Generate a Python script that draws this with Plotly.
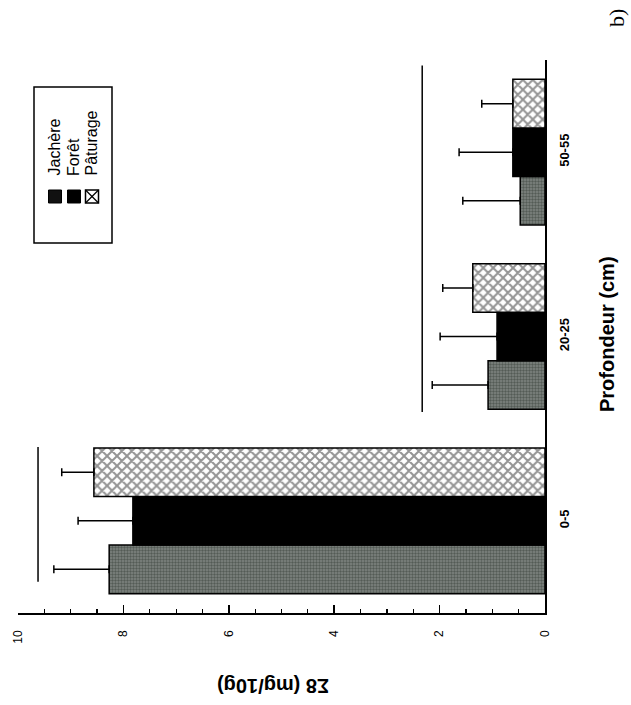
import plotly.graph_objects as go

# ---------------- data ----------------
categories = ["0-5", "20-25", "50-55"]
series_names = ["Jachère", "Forêt", "Pâturage"]
jachere = [8.27, 1.08, 0.47]
foret = [7.82, 0.91, 0.61]
paturage = [8.56, 1.37, 0.61]
jachere_err = [1.05, 1.06, 1.09]
foret_err = [1.04, 1.08, 1.02]
paturage_err = [0.61, 0.57, 0.59]
value_ticks = [0, 2, 4, 6, 8, 10]
# significance brackets: value level, span over category index
sig_level = [9.62, 2.33]
sig_from = [-0.33, 0.59]
sig_to = [0.40, 2.47]

# ---------------- layout helpers ----------------
W, H = 631, 705
L, R, T, B = 18, 545, 60, 613


def px(x):
    return (x - L) / (R - L)


def py(y):
    return (B - y) / (B - T)


FONT = "Liberation Sans, Arial, Helvetica, sans-serif"

styles = [
    dict(color="#666b68", pattern=dict(shape=".", fgcolor="#2a2f2c", bgcolor="#7f8681", size=3, solidity=0.5)),
    dict(color="#000000"),
    dict(color="white", pattern=dict(shape="x", fgcolor="#2a2a2a", bgcolor="#ffffff", size=7, solidity=0.5)),
]
values = [jachere, foret, paturage]
errs = [jachere_err, foret_err, paturage_err]

fig = go.Figure()
for name, v, e, st in zip(series_names, values, errs, styles):
    fig.add_trace(go.Bar(
        y=categories, x=v, name=name, orientation="h",
        marker=dict(line=dict(color="black", width=1.5), **st),
        error_x=dict(type="data", symmetric=False, array=e, arrayminus=[0] * len(e),
                     color="black", thickness=1.5, width=4),
        showlegend=False, hoverinfo="skip",
    ))

shapes = []
for lvl, a, b in zip(sig_level, sig_from, sig_to):
    shapes.append(dict(type="line", xref="x", yref="y", x0=lvl, x1=lvl, y0=a, y1=b,
                       line=dict(color="black", width=1.5)))

# manual rotated legend
shapes.append(dict(type="rect", xref="paper", yref="paper", x0=px(34), x1=px(112), y0=py(243), y1=py(87),
                   line=dict(color="black", width=1.5), fillcolor="white", layer="above"))
leg_x = [55, 74, 92]
for i, cx in enumerate(leg_x):
    x0, x1, y0, y1 = cx - 6.5, cx + 6.5, 190, 203
    if i < 2:
        shapes.append(dict(type="rect", xref="paper", yref="paper", x0=px(x0), x1=px(x1), y0=py(y1), y1=py(y0),
                           line=dict(color="black", width=1), fillcolor="#111111" if i == 0 else "black",
                           layer="above"))
    else:
        shapes.append(dict(type="rect", xref="paper", yref="paper", x0=px(x0), x1=px(x1), y0=py(y1), y1=py(y0),
                           line=dict(color="black", width=1.5), fillcolor="white", layer="above"))
        shapes.append(dict(type="line", xref="paper", yref="paper", x0=px(x0), x1=px(x1), y0=py(y1), y1=py(y0),
                           line=dict(color="black", width=1.2), layer="above"))
        shapes.append(dict(type="line", xref="paper", yref="paper", x0=px(x0), x1=px(x1), y0=py(y0), y1=py(y1),
                           line=dict(color="black", width=1.2), layer="above"))

annotations = []
for cx, name in zip(leg_x, series_names):
    annotations.append(dict(text=name, xref="paper", yref="paper", x=px(cx - 1), y=py(178),
                            xanchor="center", yanchor="bottom", textangle=-90, showarrow=False,
                            font=dict(family=FONT, size=16, color="black")))
annotations.append(dict(text="Profondeur (cm)", xref="paper", yref="paper", x=px(607), y=py(334),
                        xanchor="center", yanchor="middle", textangle=-90, showarrow=False,
                        font=dict(family=FONT, size=20, color="black", weight="bold")))
annotations.append(dict(text="Σ8 (mg/10g)", xref="paper", yref="paper", x=px(273), y=py(686),
                        xanchor="center", yanchor="middle", textangle=180, showarrow=False,
                        font=dict(family=FONT, size=20, color="black", weight="bold")))
annotations.append(dict(text="b)", xref="paper", yref="paper", x=px(616), y=py(18),
                        xanchor="center", yanchor="middle", textangle=-90, showarrow=False,
                        font=dict(family="Liberation Serif, Times New Roman, serif", size=22, color="black")))

fig.update_layout(
    width=W, height=H,
    margin=dict(l=L, r=W - R, t=T, b=H - B, pad=0),
    paper_bgcolor="white", plot_bgcolor="white",
    barmode="group", bargap=0.21, bargroupgap=0,
    shapes=shapes, annotations=annotations,
    hovermode=False,
    xaxis=dict(range=[10, 0], tickvals=value_ticks, ticktext=[str(t) for t in value_ticks],
               automargin=False,
               showgrid=False, zeroline=False, showline=True, linecolor="black", linewidth=1.5,
               ticks="inside", ticklen=8, tickwidth=1.5, tickcolor="black", tickangle=-90,
               ticklabelstandoff=11,
               tickfont=dict(family=FONT, size=12, color="black"),
               minor=dict(dtick=0.5, ticks="inside", ticklen=4, tickwidth=1.2, tickcolor="black", showgrid=False)),
    yaxis=dict(side="right", range=[-0.5, 2.5], showgrid=False, zeroline=False, showline=True,
               automargin=False,
               linecolor="black", linewidth=1.5, ticks="", tickangle=-90, ticklabelstandoff=7,
               tickfont=dict(family=FONT, size=13, color="black", weight="bold")),
)

fig.write_html("out.html", config={"displayModeBar": False, "staticPlot": True},
               post_script="document.body.style.margin='0';document.body.style.overflow='hidden';")
